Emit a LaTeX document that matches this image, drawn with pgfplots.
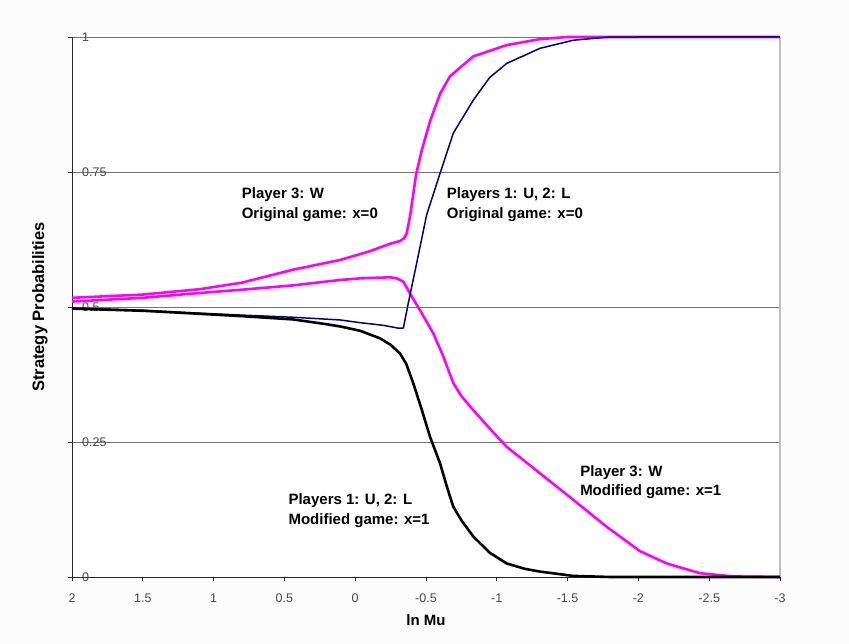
\documentclass[border=0pt]{standalone}
\usepackage{fontspec}
\setmainfont{Liberation Sans}
\usepackage{pgfplots}
\pgfplotsset{compat=1.18}
\definecolor{mag}{RGB}{255,0,255}
\definecolor{navyc}{RGB}{0,0,128}
\definecolor{bgc}{RGB}{252,252,252}
\begin{document}
\begin{tikzpicture}[x=1pt,y=1pt]
\fill[bgc] (0,0) rectangle (849,644);
\path[use as bounding box] (0,0) rectangle (849,644);
\begin{axis}[at={(72pt,67pt)}, anchor=south west, scale only axis,
  width=708pt, height=540pt,
  x dir=reverse, xmin=-3, xmax=2, ymin=0, ymax=1,
  axis background/.style={fill=white},
  axis x line*=bottom, axis y line*=left,
  axis line style={black!85, line width=0.8pt},
  xtick={2,1.5,1,0.5,0,-0.5,-1,-1.5,-2,-2.5,-3},
  xticklabels={2,1.5,1,0.5,0,-0.5,-1,-1.5,-2,-2.5,-3},
  ytick={0,0.25,0.5,0.75,1},
  yticklabels={0,0.25,0.5,0.75,1},
  tick align=outside, major tick length=4pt,
  tick style={black!85, line width=0.8pt},
  ymajorgrids, grid style={black!55, line width=0.8pt},
  ticklabel style={font=\fontsize{12.5}{14}\selectfont, text=black!72},
  xticklabel style={yshift=-9pt},
  yticklabel style={anchor=west, inner sep=0pt, xshift=14pt},
  xlabel={ln Mu},
  ylabel={Strategy Probabilities},
  label style={font=\fontsize{15}{18}\selectfont\bfseries},
  xlabel style={at={(axis description cs:0.5,0)}, anchor=center, yshift=-43pt},
  ylabel style={at={(axis description cs:0,0.5)}, anchor=center, yshift=32pt, font=\fontsize{16.5}{19}\selectfont\bfseries},
  clip=false,
]
\draw[black!25, line width=1.5pt] (rel axis cs:1,0) -- (rel axis cs:1,1);
% Player 3 modified (lower magenta)
\addplot[mag, line width=2.6pt, line join=round] coordinates {
(2,0.51) (1.5,0.517) (1.143,0.525) (0.8,0.532) (0.44,0.54) (0.107,0.55)
(-0.034,0.553) (-0.246,0.555) (-0.293,0.553) (-0.34,0.547) (-0.387,0.525)
(-0.458,0.494) (-0.552,0.451) (-0.62,0.41) (-0.693,0.359) (-0.75,0.335)
(-0.834,0.309) (-0.95,0.275) (-1.07,0.241) (-1.305,0.192) (-1.54,0.143)
(-1.776,0.093) (-2.01,0.048) (-2.2,0.025) (-2.435,0.007) (-2.67,0.001) (-3,0)};
% Player 3 original (upper magenta)
\addplot[mag, line width=2.6pt, line join=round] coordinates {
(2,0.517) (1.5,0.523) (1.096,0.533) (0.8,0.545) (0.44,0.569) (0.107,0.587)
(-0.1,0.603) (-0.246,0.617) (-0.316,0.622) (-0.345,0.627) (-0.363,0.636)
(-0.387,0.667) (-0.43,0.745) (-0.47,0.79) (-0.53,0.845) (-0.6,0.895)
(-0.669,0.927) (-0.834,0.964) (-1.07,0.985) (-1.305,0.996) (-1.5,1) (-3,1)};
% Players 1,2 original (navy)
\addplot[navyc, line width=1.5pt, line join=round] coordinates {
(2,0.498) (1.5,0.494) (1.14,0.489) (0.8,0.485) (0.44,0.481) (0.107,0.476)
(-0.034,0.471) (-0.2,0.466) (-0.3,0.461) (-0.34,0.461) (-0.375,0.507)
(-0.434,0.581) (-0.505,0.671) (-0.6,0.748) (-0.693,0.822) (-0.834,0.883)
(-0.95,0.925) (-1.07,0.951) (-1.305,0.979) (-1.54,0.994) (-1.776,0.9995) (-2,1) (-3,1)};
% Players 1,2 modified (black)
\addplot[black, line width=2.6pt, line join=round] coordinates {
(2,0.497) (1.5,0.493) (1.14,0.488) (0.8,0.483) (0.44,0.477) (0.2,0.468)
(0.107,0.464) (-0.034,0.456) (-0.175,0.442) (-0.25,0.43) (-0.316,0.414)
(-0.36,0.395) (-0.41,0.359) (-0.47,0.31) (-0.528,0.26) (-0.6,0.21)
(-0.65,0.165) (-0.693,0.13) (-0.75,0.105) (-0.834,0.075) (-0.95,0.045)
(-1.07,0.025) (-1.2,0.015) (-1.305,0.01) (-1.54,0.002) (-1.8,0) (-3,0)};
\begin{scope}[every node/.style={anchor=base west, inner sep=0pt, font=\fontsize{15}{19}\selectfont\bfseries}]
\node at (axis cs:0.802,0.700) {Player 3: W};
\node at (axis cs:0.802,0.663) {Original game: x=0};
\node at (axis cs:-0.646,0.700) {Players 1: U, 2: L};
\node at (axis cs:-0.646,0.663) {Original game: x=0};
\node at (axis cs:0.472,0.135) {Players 1: U, 2: L};
\node at (axis cs:0.472,0.098) {Modified game: x=1};
\node at (axis cs:-1.588,0.187) {Player 3: W};
\node at (axis cs:-1.588,0.150) {Modified game: x=1};
\end{scope}
\end{axis}
\end{tikzpicture}
\end{document}
